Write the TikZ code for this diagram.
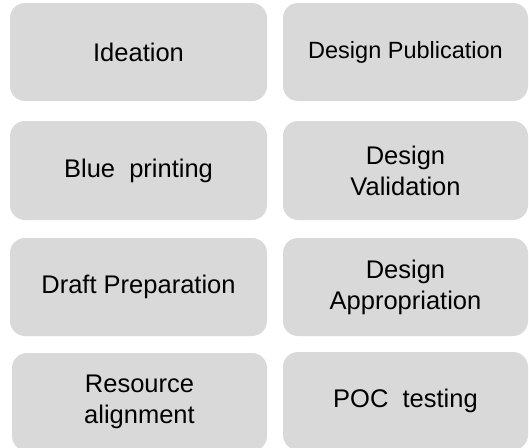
\documentclass[tikz,border=0pt]{standalone}
\usepackage{fontspec}
\setmainfont{Liberation Sans}
\definecolor{boxgray}{HTML}{D9D9D9}
\tikzset{
  stepbox/.style={rectangle, rounded corners=15pt, fill=boxgray, draw=none,
    align=center, inner sep=0pt, font=\fontsize{25.5}{31}\selectfont, text=black},
  leftbox/.style={stepbox, minimum width=257pt},
  rightbox/.style={stepbox, minimum width=245pt}
}
\begin{document}
\begin{tikzpicture}[x=1pt,y=1pt]
\useasboundingbox (0,0) rectangle (529,-447);
\clip (0,0) rectangle (529,-447);
\node[leftbox, minimum height=98pt] (ideation) at (138.5,-52) {Ideation};
\node[rightbox, minimum height=98pt, font=\fontsize{23.5}{28}\selectfont] (pub) at (405.5,-52) {Design Publication};
\node[leftbox, minimum height=99pt] (blue) at (138.5,-170.5) {Blue\ \ printing};
\node[rightbox, minimum height=99pt] (valid) at (405.5,-170.5) {Design\\Validation};
\node[leftbox, minimum height=98pt] (draft) at (138.5,-287) {Draft Preparation};
\node[rightbox, minimum height=98pt] (approp) at (405.5,-287) {Design\\Appropriation};
\node[stepbox, minimum width=255pt, minimum height=98pt] (resource) at (139.5,-402) {Resource\\alignment};
\node[rightbox, minimum height=98pt] (poc) at (405.5,-401) {POC\ \ testing};
\end{tikzpicture}
\end{document}
